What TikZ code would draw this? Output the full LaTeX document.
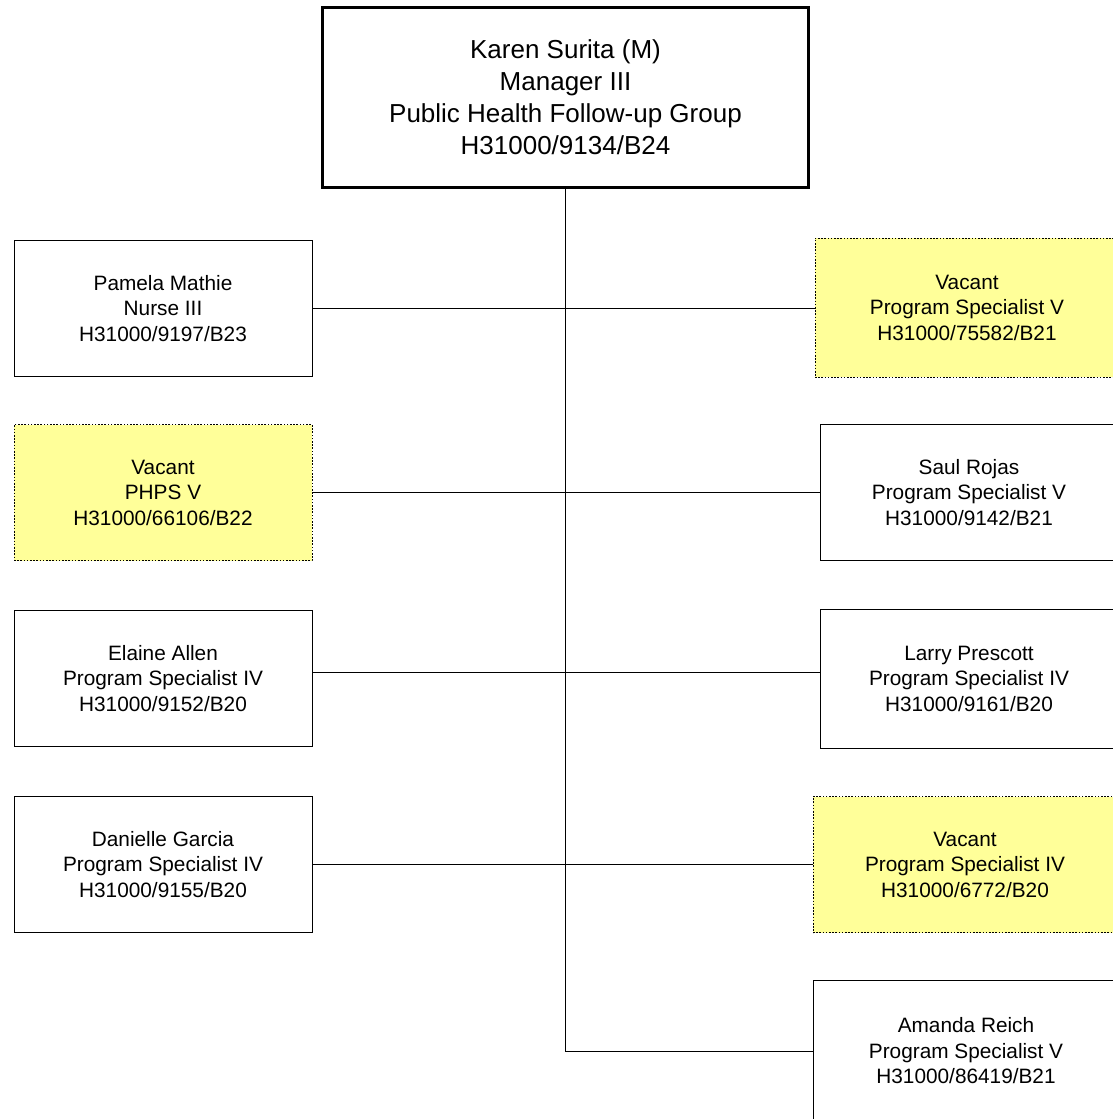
\documentclass[tikz,border=0pt]{standalone}
\usepackage{fontspec}
\setmainfont{Liberation Sans}
\definecolor{vacfill}{RGB}{255,255,153}
\begin{document}
\begin{tikzpicture}[x=1pt,y=-1pt,
  box/.style={draw=black,line width=1pt,fill=white,inner sep=0pt,align=center,
    minimum width=298pt,minimum height=136pt,font=\fontsize{20.8}{25.5}\selectfont},
  vac/.style={box,fill=vacfill,dash pattern=on 1.6pt off 1.6pt},
  topbox/.style={draw=black,line width=2.6pt,fill=white,inner sep=0pt,align=center,
    minimum width=486pt,minimum height=180pt,font=\fontsize{26}{32}\selectfont},
  link/.style={draw=black,line width=1pt}]
\useasboundingbox (0,0) rectangle (1112,1119);
\coordinate (trunkend) at (567,1051);
\node[topbox] (top) at (565.5,97.5) {Karen Surita (M)\\Manager III\\Public Health Follow-up Group\\H31000/9134/B24};
% left column
\node[box] (pam) at (163,308.5) {Pamela Mathie\\Nurse III\\H31000/9197/B23};
\node[vac] (phps) at (163,492.5) {Vacant\\PHPS V\\H31000/66106/B22};
\node[box] (ela) at (163,678.5) {Elaine Allen\\Program Specialist IV\\H31000/9152/B20};
\node[box] (dan) at (163,864.5) {Danielle Garcia\\Program Specialist IV\\H31000/9155/B20};
% right column
\node[vac,minimum width=304pt,minimum height=139pt] (vac5) at (967,307.5) {Vacant\\Program Specialist V\\H31000/75582/B21};
\node[box] (saul) at (969,492.5) {Saul Rojas\\Program Specialist V\\H31000/9142/B21};
\node[box,minimum height=139pt] (larry) at (969,678.5) {Larry Prescott\\Program Specialist IV\\H31000/9161/B20};
\node[vac,minimum width=304pt] (vac4) at (965,864.5) {Vacant\\Program Specialist IV\\H31000/6772/B20};
\node[box,minimum width=306pt,minimum height=142pt] (amanda) at (966,1051) {Amanda Reich\\Program Specialist V\\H31000/86419/B21};
% connectors
\draw[link] (top.south) -- (top.south |- trunkend) -- (amanda.west);
\draw[link] (pam.east) -- (vac5.west |- pam.east);
\draw[link] (phps.east) -- (saul.west);
\draw[link] (ela.east |- 0,672) -- (larry.west |- 0,672);
\draw[link] (dan.east) -- (vac4.west);
\end{tikzpicture}
\end{document}
